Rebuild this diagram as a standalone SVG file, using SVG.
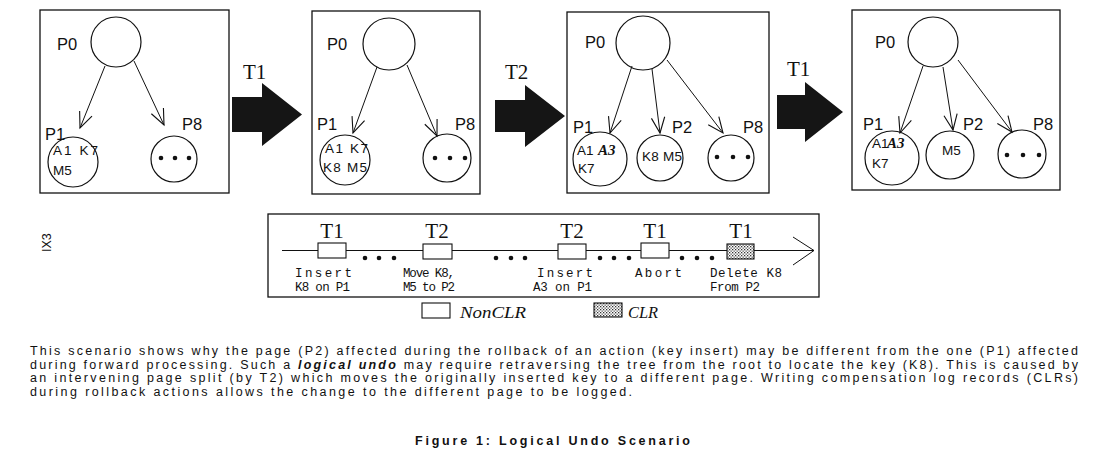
<svg xmlns="http://www.w3.org/2000/svg" width="1101" height="462" viewBox="0 0 1101 462">
<style>
.panel{fill:none;stroke:#111;stroke-width:1.3}
.pg{fill:#fff;stroke:#111;stroke-width:1.2}
.lbl{font-family:"Liberation Sans",Arial,sans-serif;font-size:16.5px;fill:#111}
.key{font-family:"Liberation Sans",Arial,sans-serif;font-size:13.5px;fill:#111}
.keyb{font-family:"Liberation Serif","Times New Roman",serif;font-size:15px;font-style:italic;font-weight:bold;fill:#111}
.edge{stroke:#111;stroke-width:1;fill:none;marker-end:url(#ah)}
.big{fill:#151515}
.tl{font-family:"Liberation Serif","Times New Roman",serif;font-size:21px;fill:#111}
.dot{fill:#111}
.op{fill:#fff;stroke:#111;stroke-width:1.1}
.clr{fill:url(#dots);stroke:#111;stroke-width:1.1}
.mono{font-family:"Liberation Mono","Courier New",monospace;font-size:12.5px;fill:#111}
.leg{font-family:"Liberation Serif","Times New Roman",serif;font-size:16px;font-style:italic;fill:#111}
.cap{font-family:"Liberation Sans",Arial,sans-serif;font-size:12.5px;fill:#111}
</style>
<defs>
<marker id="ah" markerUnits="userSpaceOnUse" markerWidth="20" markerHeight="20" viewBox="-16 -8 18 16" refX="0" refY="0" orient="auto">
<path d="M-14,-6 L0,0 L-14,6" fill="none" stroke="#111" stroke-width="1"/>
</marker>
<pattern id="dots" width="3" height="3" patternUnits="userSpaceOnUse">
<rect width="3" height="3" fill="#fff"/>
<rect x="0" y="0" width="1.3" height="1.3" fill="#333"/>
<rect x="1.5" y="1.5" width="1.3" height="1.3" fill="#555"/>
</pattern>
</defs>
<rect width="1101" height="462" fill="#fff"/>

<!-- Panel 1 -->
<g id="panel1">
<rect class="panel" x="40" y="10" width="189" height="183"/>
<g id="p1-P0"><circle class="pg" cx="116" cy="42" r="25"/><text class="lbl" x="57" y="50">P0</text></g>
<g id="p1-P1"><circle class="pg" cx="73" cy="162" r="25"/><text class="lbl" x="45" y="140">P1</text>
<text class="key" x="53" y="155" textLength="45" lengthAdjust="spacing">A1 K7</text><text class="key" x="53" y="175">M5</text></g>
<g id="p1-P8"><circle class="pg" cx="174" cy="159" r="23"/><text class="lbl" x="182" y="130">P8</text>
<circle class="dot" cx="161" cy="158" r="2.3"/><circle class="dot" cx="175" cy="158" r="2.3"/><circle class="dot" cx="189" cy="158" r="2.3"/></g>
</g>

<!-- Panel 2 -->
<g id="panel2">
<rect class="panel" x="312" y="11" width="168" height="183"/>
<g id="p2-P0"><circle class="pg" cx="389" cy="44" r="26"/><text class="lbl" x="327" y="50">P0</text></g>
<g id="p2-P1"><circle class="pg" cx="345" cy="160" r="25"/><text class="lbl" x="317" y="130">P1</text>
<text class="key" x="325" y="153" textLength="43" lengthAdjust="spacing">A1 K7</text><text class="key" x="323" y="172" textLength="44" lengthAdjust="spacing">K8 M5</text></g>
<g id="p2-P8"><circle class="pg" cx="447" cy="158" r="24"/><text class="lbl" x="455" y="130">P8</text>
<circle class="dot" cx="435" cy="158" r="2.3"/><circle class="dot" cx="450" cy="158" r="2.3"/><circle class="dot" cx="465" cy="158" r="2.3"/></g>
</g>

<!-- Panel 3 -->
<g id="panel3">
<rect class="panel" x="567" y="12" width="202" height="181"/>
<g id="p3-P0"><circle class="pg" cx="643" cy="43" r="27"/><text class="lbl" x="585" y="48">P0</text></g>
<g id="p3-P1"><circle class="pg" cx="600" cy="159" r="27"/><text class="lbl" x="573" y="133">P1</text>
<text class="key" x="577" y="155">A1</text><text class="keyb" x="598" y="155">A3</text><text class="key" x="578" y="173">K7</text></g>
<g id="p3-P2"><circle class="pg" cx="660" cy="158" r="23"/><text class="lbl" x="672" y="133">P2</text>
<text class="key" x="642" y="161" textLength="40" lengthAdjust="spacing">K8 M5</text></g>
<g id="p3-P8"><circle class="pg" cx="731" cy="158" r="23"/><text class="lbl" x="743" y="133">P8</text>
<circle class="dot" cx="717" cy="157" r="2.3"/><circle class="dot" cx="733" cy="157" r="2.3"/><circle class="dot" cx="748" cy="157" r="2.3"/></g>
</g>

<!-- Panel 4 -->
<g id="panel4">
<rect class="panel" x="852" y="10" width="208" height="180"/>
<g id="p4-P0"><circle class="pg" cx="933" cy="42" r="25"/><text class="lbl" x="875" y="48">P0</text></g>
<g id="p4-P1"><circle class="pg" cx="892" cy="158" r="27"/><text class="lbl" x="863" y="130">P1</text>
<text class="key" x="872" y="148">A1</text><text class="keyb" x="887" y="148">A3</text><text class="key" x="872" y="168">K7</text></g>
<g id="p4-P2"><circle class="pg" cx="950" cy="155" r="24"/><text class="lbl" x="963" y="130">P2</text>
<text class="key" x="942" y="155">M5</text></g>
<g id="p4-P8"><circle class="pg" cx="1022" cy="154" r="24"/><text class="lbl" x="1033" y="130">P8</text>
<circle class="dot" cx="1007" cy="155" r="2.3"/><circle class="dot" cx="1023" cy="155" r="2.3"/><circle class="dot" cx="1039" cy="155" r="2.3"/></g>
</g>

<!-- Connectors -->
<g id="connectors">
<line class="edge" x1="105" y1="66" x2="80" y2="128"/>
<line class="edge" x1="134" y1="61" x2="164" y2="125"/>
<line class="edge" x1="377" y1="67" x2="353" y2="133"/>
<line class="edge" x1="407" y1="65" x2="437" y2="136"/>
<line class="edge" x1="632" y1="66" x2="610" y2="133"/>
<line class="edge" x1="652" y1="69" x2="660" y2="133"/>
<line class="edge" x1="667" y1="60" x2="723" y2="133"/>
<line class="edge" x1="923" y1="66" x2="900" y2="133"/>
<line class="edge" x1="943" y1="67" x2="953" y2="130"/>
<line class="edge" x1="958" y1="60" x2="1012" y2="132"/>
</g>

<!-- Transitions -->
<g id="transitions">
<g id="tr1"><polygon class="big" points="232,97 262,97 262,83 302,114.5 262,146 262,132 232,132"/><text class="tl" x="243" y="79">T1</text></g>
<g id="tr2"><polygon class="big" points="495,100 525,100 525,85 565,116 525,147 525,132 495,132"/><text class="tl" x="505" y="79">T2</text></g>
<g id="tr3"><polygon class="big" points="777,95 805,95 805,82 843,112 805,142 805,129 777,129"/><text class="tl" x="787" y="76">T1</text></g>
</g>

<text class="cap" font-size="11" transform="translate(51,252) rotate(-90)">IX3</text>

<!-- Timeline -->
<g id="timeline">
<rect class="panel" x="268" y="214" width="551" height="83"/>
<line x1="282" y1="250.5" x2="814" y2="250.5" stroke="#111" stroke-width="1"/>
<path d="M793,237 L814,250.5 L793,265" fill="none" stroke="#111" stroke-width="1"/>
<g id="op1"><rect class="op" x="318" y="243" width="28" height="15"/><text class="tl" x="332" y="238" text-anchor="middle">T1</text>
<text class="mono" x="295" y="277" textLength="57" lengthAdjust="spacing">Insert</text><text class="mono" x="295" y="291" textLength="55" lengthAdjust="spacing">K8 on P1</text></g>
<g id="op2"><rect class="op" x="423" y="244" width="29" height="15"/><text class="tl" x="437" y="238" text-anchor="middle">T2</text>
<text class="mono" x="403" y="277" textLength="52" lengthAdjust="spacing">Move K8,</text><text class="mono" x="403" y="291" textLength="52" lengthAdjust="spacing">M5 to P2</text></g>
<g id="op3"><rect class="op" x="558" y="244" width="28" height="15"/><text class="tl" x="572" y="238" text-anchor="middle">T2</text>
<text class="mono" x="537" y="277" textLength="56" lengthAdjust="spacing">Insert</text><text class="mono" x="533" y="291" textLength="59" lengthAdjust="spacing">A3 on P1</text></g>
<g id="op4"><rect class="op" x="641" y="243" width="28" height="15"/><text class="tl" x="655" y="238" text-anchor="middle">T1</text>
<text class="mono" x="635" y="277" textLength="47" lengthAdjust="spacing">Abort</text></g>
<g id="op5"><rect class="clr" x="727" y="244" width="27" height="15"/><text class="tl" x="741" y="238" text-anchor="middle">T1</text>
<text class="mono" x="710" y="277" textLength="72" lengthAdjust="spacing">Delete K8</text><text class="mono" x="710" y="291" textLength="50" lengthAdjust="spacing">From P2</text></g>
<g fill="#111">
<circle cx="365" cy="258" r="2.3"/><circle cx="379" cy="258" r="2.3"/><circle cx="394" cy="258" r="2.3"/>
<circle cx="496" cy="258" r="2.3"/><circle cx="511" cy="258" r="2.3"/><circle cx="525" cy="258" r="2.3"/>
<circle cx="600" cy="258" r="2.3"/><circle cx="614" cy="258" r="2.3"/><circle cx="629" cy="258" r="2.3"/>
<circle cx="682" cy="258" r="2.3"/><circle cx="697" cy="258" r="2.3"/><circle cx="712" cy="258" r="2.3"/>
</g>
</g>

<!-- Legend -->
<g id="legend">
<rect class="op" x="422" y="303" width="28" height="15"/><text class="leg" x="460" y="318" textLength="66" lengthAdjust="spacingAndGlyphs">NonCLR</text>
<rect class="clr" x="594" y="303" width="28" height="14"/><text class="leg" x="628" y="318" textLength="30" lengthAdjust="spacingAndGlyphs">CLR</text>
</g>

<!-- Caption -->
<g id="caption">
<text class="cap" x="30" y="355" textLength="1048" lengthAdjust="spacing">This scenario shows why the page (P2) affected during the rollback of an action (key insert) may be different from the one (P1) affected</text>
<text class="cap" x="30" y="368.5" textLength="1048" lengthAdjust="spacing">during forward processing. Such a <tspan font-weight="bold" font-style="italic">logical undo</tspan> may require retraversing the tree from the root to locate the key (K8). This is caused by</text>
<text class="cap" x="30" y="382" textLength="1048" lengthAdjust="spacing">an intervening page split (by T2) which moves the originally inserted key to a different page. Writing compensation log records (CLRs)</text>
<text class="cap" x="30" y="395.5" textLength="602" lengthAdjust="spacing">during rollback actions allows the change to the different page to be logged.</text>
<text class="cap" x="415" y="445" font-weight="bold" font-size="15" textLength="275" lengthAdjust="spacing">Figure 1: Logical Undo Scenario</text>
</g>
</svg>
